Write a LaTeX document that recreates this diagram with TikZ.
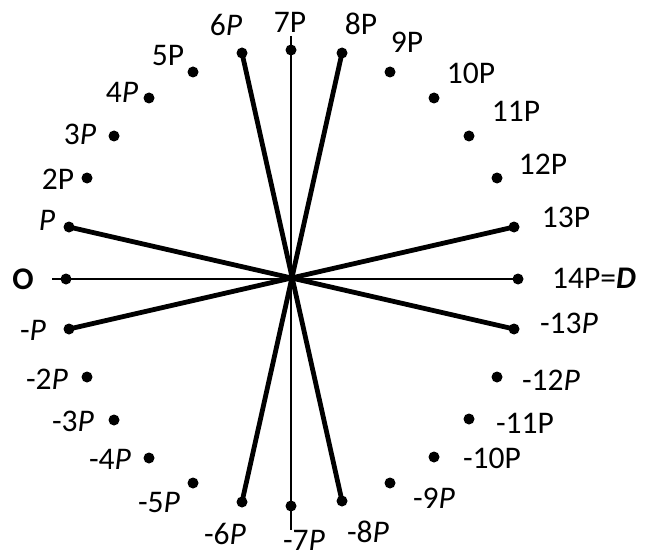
\documentclass[tikz,border=0pt]{standalone}
\usepackage{fontspec}
\setmainfont{Carlito}
\begin{document}
\begin{tikzpicture}[x=1pt,y=-1pt,
  dot/.style={circle,fill=black,inner sep=0pt,minimum size=11pt},
  lab/.style={inner sep=0pt,font=\fontsize{31.5}{31.5}\selectfont},
  spoke/.style={line width=4.8pt,line cap=round},
  axisline/.style={line width=2pt}]
\useasboundingbox (0,0) rectangle (653,559);
% dots
\node[dot] (o)   at (66,279) {};
\node[dot] (p1)  at (69,227) {};
\node[dot] (p2)  at (87,178) {};
\node[dot] (p3)  at (114,136) {};
\node[dot] (p4)  at (149,98) {};
\node[dot] (p5)  at (193,72) {};
\node[dot] (p6)  at (242,53) {};
\node[dot] (p7)  at (291,50) {};
\node[dot] (p8)  at (342,53) {};
\node[dot] (p9)  at (390,72) {};
\node[dot] (p10) at (434,98) {};
\node[dot] (p11) at (469,136) {};
\node[dot] (p12) at (497,178) {};
\node[dot] (p13) at (514,227) {};
\node[dot] (p14) at (518,279) {};
\node[dot] (n1)  at (69,329) {};
\node[dot] (n2)  at (87,377) {};
\node[dot] (n3)  at (114,420) {};
\node[dot] (n4)  at (149,458) {};
\node[dot] (n5)  at (193,483) {};
\node[dot] (n6)  at (242,502) {};
\node[dot] (n7)  at (291,506) {};
\node[dot] (n8)  at (342,501) {};
\node[dot] (n9)  at (390,483) {};
\node[dot] (n10) at (434,457) {};
\node[dot] (n11) at (469,419) {};
\node[dot] (n12) at (497,377) {};
\node[dot] (n13) at (514,329) {};
\coordinate (hstart) at (52,279);
\coordinate (vtop) at (291,36);
\coordinate (vbot) at (291,530);
% thin axes
\draw[axisline] (hstart) -- (p14.center);
\draw[axisline] (vtop) -- (vbot);
% thick spokes
\draw[spoke] (p1.center) -- (n13.center);
\draw[spoke] (n1.center) -- (p13.center);
\draw[spoke] (p6.center) -- (n8.center);
\draw[spoke] (p8.center) -- (n6.center);
% labels
\node[lab] (lo)   at (23,279) {\textbf{O}};
\node[lab] (lp1)  at (47,220) {\textit{P}};
\node[lab] (lp2)  at (58,179) {2P};
\node[lab] (lp3)  at (80,134) {3\textit{P}};
\node[lab] (lp4)  at (122,92) {4\textit{P}};
\node[lab] (lp5)  at (168,56) {5P};
\node[lab] (lp6)  at (226,25) {6\textit{P}};
\node[lab] (lp7)  at (290,22) {7P};
\node[lab] (lp8)  at (361,24) {8P};
\node[lab] (lp9)  at (407,42) {9P};
\node[lab] (lp10) at (471,73) {10P};
\node[lab] (lp11) at (516,111) {11P};
\node[lab] (lp12) at (543,164) {12P};
\node[lab] (lp13) at (566,217) {13P};
\node[lab] (lp14) at (594,278) {14P=\textbf{\textit{D}}};
\node[lab] (ln1)  at (33,330) {-\textit{P}};
\node[lab] (ln2)  at (47,379) {-2\textit{P}};
\node[lab] (ln3)  at (73,421) {-3\textit{P}};
\node[lab] (ln4)  at (110,459) {-4\textit{P}};
\node[lab] (ln5)  at (159,502) {-5\textit{P}};
\node[lab] (ln6)  at (225,534) {-6\textit{P}};
\node[lab] (ln7)  at (304,540) {-7\textit{P}};
\node[lab] (ln8)  at (368,532) {-8\textit{P}};
\node[lab] (ln9)  at (434,498) {-9\textit{P}};
\node[lab] (ln10) at (492,458) {-10P};
\node[lab] (ln11) at (525,423) {-11P};
\node[lab] (ln12) at (551,380) {-12\textit{P}};
\node[lab] (ln13) at (569,323) {-13\textit{P}};
\end{tikzpicture}
\end{document}
